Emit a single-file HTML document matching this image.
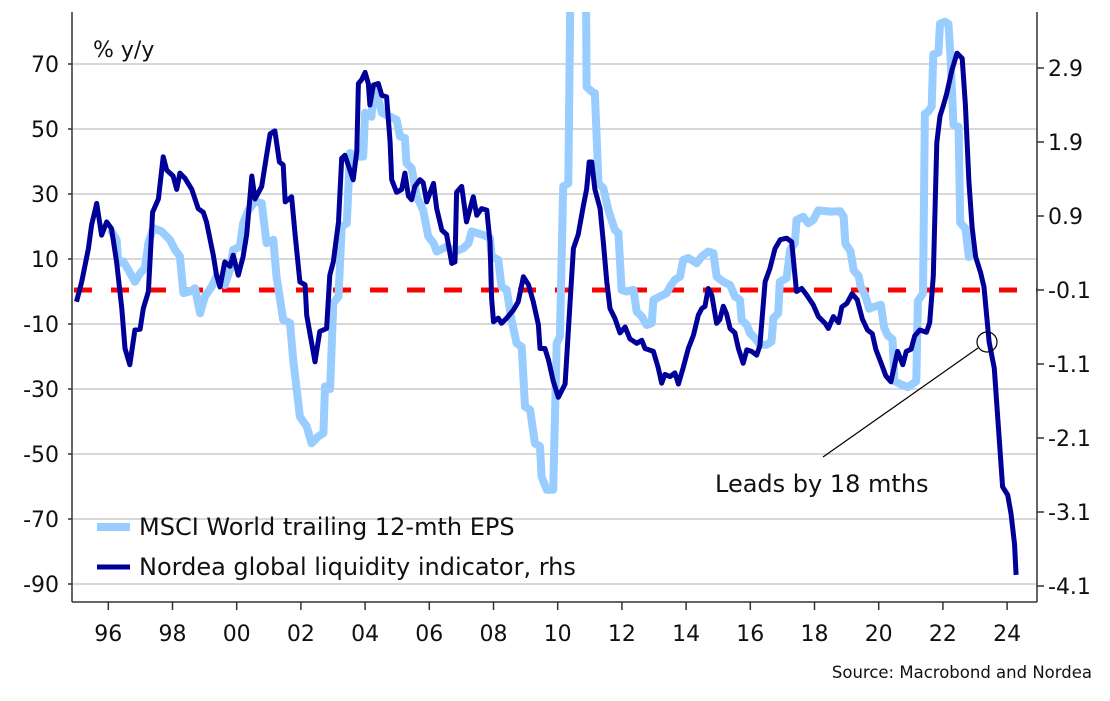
<!DOCTYPE html>
<html><head><meta charset="utf-8">
<style>
html,body{margin:0;padding:0;background:#fff;}
svg{display:block;font-family:"DejaVu Sans","Liberation Sans",sans-serif;}
</style></head>
<body>
<svg id="chart" width="1110" height="701" viewBox="0 0 1110 701" xmlns="http://www.w3.org/2000/svg">
<defs><clipPath id="plotclip"><rect x="72" y="12" width="965" height="590"/></clipPath></defs>
<g id="grid"></g>
<g id="series" clip-path="url(#plotclip)"></g>
<g id="axes"></g>
<text x="93" y="57" font-size="22" fill="#111">% y/y</text>
<g>
  <line x1="97" y1="527" x2="130" y2="527" stroke="#99ccff" stroke-width="8"/>
  <text x="139" y="535" font-size="24" fill="#111">MSCI World trailing 12-mth EPS</text>
  <line x1="97" y1="567" x2="130" y2="567" stroke="#000099" stroke-width="5"/>
  <text x="139" y="575" font-size="24" fill="#111">Nordea global liquidity indicator, rhs</text>
</g>
<g>
  <circle cx="987" cy="342" r="10" fill="none" stroke="#000" stroke-width="1.2"/>
  <line x1="978" y1="348" x2="823" y2="457" stroke="#000" stroke-width="1.2"/>
  <text x="715" y="492" font-size="24" fill="#111">Leads by 18 mths</text>
</g>
<text x="1092" y="678" font-size="16.5" fill="#111" text-anchor="end">Source: Macrobond and Nordea</text>
</svg>
<script>
const leftTicks = [70, 50, 30, 10, -10, -30, -50, -70, -90];
const rightTicks = [2.9, 1.9, 0.9, -0.1, -1.1, -2.1, -3.1, -4.1];
const xTickYears = [1996, 1998, 2000, 2002, 2004, 2006, 2008, 2010, 2012, 2014, 2016, 2018, 2020, 2022, 2024];
const xTickLabels = ["96","98","00","02","04","06","08","10","12","14","16","18","20","22","24"];
const refLevelRhs = -0.1;

const msciYears = [1996.1,1996.26,1996.31,1996.47,1996.62,1996.83,1996.99,1997.14,1997.25,1997.4,1997.66,1997.92,1998.08,1998.23,1998.34,1998.54,1998.7,1998.86,1999.01,1999.22,1999.37,1999.63,1999.79,1999.89,2000.1,2000.2,2000.36,2000.57,2000.78,2000.93,2001.14,2001.24,2001.45,2001.66,2001.76,2001.97,2002.18,2002.33,2002.54,2002.7,2002.75,2002.91,2003.01,2003.17,2003.27,2003.43,2003.53,2003.74,2003.94,2004.0,2004.2,2004.26,2004.36,2004.52,2004.78,2004.98,2005.09,2005.24,2005.29,2005.45,2005.61,2005.81,2005.97,2006.13,2006.23,2006.54,2006.8,2007.06,2007.22,2007.32,2007.68,2007.89,2007.94,2008.15,2008.25,2008.41,2008.56,2008.72,2008.88,2008.98,2009.14,2009.29,2009.45,2009.5,2009.66,2009.86,2009.97,2010.07,2010.17,2010.33,2010.45,2010.85,2010.9,2011.06,2011.16,2011.27,2011.42,2011.58,2011.78,2011.89,2011.99,2012.15,2012.36,2012.46,2012.62,2012.77,2012.93,2012.98,2013.19,2013.4,2013.5,2013.65,2013.81,2013.91,2014.07,2014.33,2014.49,2014.69,2014.85,2014.95,2015.16,2015.37,2015.52,2015.68,2015.73,2015.89,2015.99,2016.15,2016.3,2016.51,2016.66,2016.72,2016.87,2016.92,2017.13,2017.24,2017.39,2017.44,2017.65,2017.81,2017.96,2018.12,2018.48,2018.8,2018.91,2018.96,2019.12,2019.22,2019.38,2019.43,2019.59,2019.7,2019.86,2020.07,2020.17,2020.28,2020.43,2020.49,2020.75,2020.91,2021.17,2021.22,2021.38,2021.44,2021.54,2021.65,2021.7,2021.86,2021.91,2022.07,2022.17,2022.23,2022.33,2022.49,2022.54,2022.7,2022.81];
const msciValues = [18.5,15.9,8.7,9.2,6.7,3,5.6,7.2,14.9,19.5,18.5,15.9,12.8,10.8,-0.5,0,1,-6.7,-1.5,1.5,4.6,2,6.7,12.8,13.8,21,25,27.7,27.2,14.9,15.9,4.6,-8.7,-9.7,-21,-38.5,-41.5,-46.7,-44.6,-43.6,-29.2,-30,-3.6,-1.5,20,21,42.6,41.5,41.5,55,53.8,62.6,61,55,53.8,52.8,47.7,47.2,39.5,38,29.2,25,17,14.9,12.3,13.8,12.3,13.3,14.9,18.5,17.4,16.4,10.8,9.7,1.5,0.5,-8.7,-15.9,-17,-35.4,-36.4,-46.7,-47.7,-57,-61,-61,-15.9,-13.8,32.3,33.3,140,140,63,61.5,61,33.3,31.8,25,19,18,0.5,0,0.5,-6.2,-7.7,-10.3,-9.7,-2.6,-1.5,-0.5,1.5,3.6,4.6,9.7,10.3,8.7,10.8,12.3,11.8,4.6,3,2,-1.5,-2.6,-8.7,-10.3,-12.8,-14.4,-16.4,-16.4,-15.4,-8.2,-6.7,3,4.1,12.8,14.9,22,23,21,22,25,24.6,24.7,23,14.7,12.4,6.5,4.7,1.8,-1.5,-5.3,-4.7,-4.1,-11.2,-13.5,-14.7,-27.6,-28.8,-29.4,-27.6,-2.9,-0.6,54.7,55.3,57,73,73.5,82.4,83,82.4,73.5,51.2,50.6,21.2,19.4,10.6];

const nordeaYears = [1995.01,1995.17,1995.38,1995.48,1995.64,1995.79,1995.95,1996.1,1996.26,1996.42,1996.52,1996.67,1996.83,1996.99,1997.09,1997.25,1997.38,1997.56,1997.71,1997.82,1998.02,1998.13,1998.23,1998.39,1998.6,1998.8,1998.96,1999.06,1999.27,1999.37,1999.48,1999.63,1999.79,1999.89,2000.05,2000.2,2000.31,2000.47,2000.57,2000.78,2000.93,2001.04,2001.19,2001.33,2001.45,2001.51,2001.71,2001.82,2001.97,2002.13,2002.18,2002.44,2002.59,2002.8,2002.9,2003.01,2003.17,2003.27,2003.37,2003.63,2003.74,2003.79,2003.89,2004.0,2004.1,2004.15,2004.26,2004.41,2004.52,2004.67,2004.78,2004.83,2004.98,2005.14,2005.24,2005.35,2005.45,2005.55,2005.71,2005.81,2005.92,2006.13,2006.23,2006.39,2006.54,2006.7,2006.8,2006.85,2007.01,2007.16,2007.37,2007.48,2007.63,2007.79,2007.89,2007.94,2008.0,2008.15,2008.25,2008.41,2008.62,2008.77,2008.93,2009.09,2009.24,2009.4,2009.45,2009.6,2009.71,2009.86,2010.02,2010.23,2010.33,2010.49,2010.64,2010.8,2010.9,2010.98,2011.06,2011.16,2011.32,2011.42,2011.53,2011.63,2011.78,2011.94,2012.1,2012.25,2012.46,2012.62,2012.72,2012.98,2013.13,2013.24,2013.34,2013.5,2013.65,2013.76,2013.91,2014.07,2014.23,2014.38,2014.49,2014.59,2014.69,2014.8,2014.95,2015.05,2015.16,2015.26,2015.37,2015.52,2015.63,2015.78,2015.89,2016.04,2016.2,2016.3,2016.46,2016.61,2016.77,2016.93,2017.13,2017.29,2017.44,2017.6,2017.76,2017.96,2018.12,2018.33,2018.43,2018.59,2018.75,2018.85,2019.01,2019.17,2019.33,2019.49,2019.65,2019.8,2019.91,2020.07,2020.22,2020.38,2020.59,2020.75,2020.86,2021.01,2021.12,2021.28,2021.49,2021.59,2021.7,2021.81,2021.91,2022.02,2022.12,2022.28,2022.44,2022.6,2022.7,2022.81,2022.91,2023.02,2023.17,2023.28,2023.44,2023.6,2023.7,2023.86,2024.02,2024.12,2024.23,2024.28];
const nordeaValues = [-0.26,0.01,0.46,0.78,1.07,0.64,0.82,0.73,0.28,-0.35,-0.89,-1.11,-0.64,-0.63,-0.35,-0.12,0.95,1.13,1.70,1.52,1.44,1.26,1.48,1.41,1.26,1.00,0.95,0.82,0.37,0.10,-0.06,0.28,0.22,0.37,0.10,0.35,0.65,1.44,1.13,1.30,1.72,2.01,2.05,1.63,1.59,1.09,1.16,0.65,0.01,-0.03,-0.44,-1.07,-0.66,-0.62,0.10,0.28,0.82,1.68,1.72,1.39,1.77,2.69,2.74,2.84,2.69,2.40,2.67,2.69,2.53,2.51,1.90,1.39,1.22,1.26,1.48,1.17,1.12,1.30,1.39,1.35,1.09,1.34,1.00,0.71,0.65,0.26,0.28,1.22,1.30,0.82,1.16,0.91,1.00,0.98,0.55,-0.21,-0.53,-0.48,-0.55,-0.48,-0.37,-0.26,0.08,-0.03,-0.26,-0.57,-0.89,-0.89,-1.04,-1.33,-1.55,-1.37,-0.66,0.46,0.65,1.04,1.26,1.63,1.63,1.26,1.00,0.55,0.01,-0.35,-0.48,-0.68,-0.60,-0.76,-0.82,-0.78,-0.89,-0.93,-1.15,-1.36,-1.24,-1.27,-1.22,-1.37,-1.15,-0.89,-0.71,-0.44,-0.35,-0.32,-0.08,-0.17,-0.55,-0.50,-0.32,-0.42,-0.62,-0.68,-0.89,-1.09,-0.91,-0.93,-0.98,-0.85,0.01,0.19,0.46,0.58,0.60,0.55,-0.12,-0.08,-0.17,-0.30,-0.46,-0.55,-0.62,-0.46,-0.54,-0.33,-0.28,-0.15,-0.23,-0.49,-0.64,-0.69,-0.90,-1.08,-1.26,-1.34,-0.93,-1.11,-0.93,-0.90,-0.72,-0.64,-0.67,-0.54,0.09,1.89,2.25,2.40,2.56,2.87,3.10,3.03,2.40,1.37,0.75,0.35,0.14,-0.06,-0.80,-1.16,-1.78,-2.76,-2.87,-3.12,-3.53,-3.95];

const NS = "http://www.w3.org/2000/svg";
const PL = 72, PR = 1037, PT = 12, PB = 602;
function xScale(yr){ return 108.3 + (yr - 1996) * 32.1; }
function yLeft(v){ return 291.5 - v * 3.25; }
function yRight(r){ return 290 - (r + 0.1) * 74; }
function mk(tag, attrs, parent){ const e = document.createElementNS(NS, tag); for (const k in attrs) e.setAttribute(k, attrs[k]); parent.appendChild(e); return e; }

const grid = document.getElementById('grid');
const axes = document.getElementById('axes');
const series = document.getElementById('series');

leftTicks.forEach(v => {
  const y = yLeft(v);
  const g = mk('line', {x1: PL, x2: PR, y1: y, y2: y, stroke: '#cccccc', 'stroke-width': 1.5}, grid);
  
  
  const t = mk('line', {x1: PL - 4, x2: PL, y1: y, y2: y, stroke: '#333', 'stroke-width': 1.5}, axes);
  
  
  const lb = mk('text', {x: 59, y: y + 8, 'font-size': 22, 'text-anchor': 'end', fill: '#111'}, axes);
  lb.textContent = v;
  
  
});
rightTicks.forEach(r => {
  const y = yRight(r);
  const t = mk('line', {x1: PR, x2: PR + 7, y1: y, y2: y, stroke: '#333', 'stroke-width': 1.5}, axes);
  
  
  const lb = mk('text', {x: 1048, y: y + 8, 'font-size': 22, fill: '#111'}, axes);
  lb.textContent = r.toFixed(1);
  
  
});
xTickYears.forEach((yr, i) => {
  const x = xScale(yr);
  const t = mk('line', {x1: x, x2: x, y1: PB, y2: PB + 8, stroke: '#333', 'stroke-width': 1.5}, axes);
  
  
  const lb = mk('text', {x: x, y: 641, 'font-size': 22, 'text-anchor': 'middle', fill: '#111'}, axes);
  lb.textContent = xTickLabels[i];
  
  
});
const la = mk('line', {x1: PL, x2: PL, y1: PT, y2: PB, stroke: '#333', 'stroke-width': 1.5}, axes);


const ra = mk('line', {x1: PR, x2: PR, y1: PT, y2: PB, stroke: '#333', 'stroke-width': 1.5}, axes);


const ba = mk('line', {x1: PL, x2: PR, y1: PB, y2: PB, stroke: '#333', 'stroke-width': 1.5}, axes);



const ref = mk('line', {x1: PL, x2: PR, y1: yRight(refLevelRhs), y2: yRight(refLevelRhs), stroke: '#ff0000', 'stroke-width': 5, 'stroke-dasharray': '18 19', 'stroke-dashoffset': '-2'}, series);



const msciPts = msciYears.map((yr, i) => xScale(yr).toFixed(1) + ',' + yLeft(msciValues[i]).toFixed(1)).join(' ');
const msci = mk('polyline', {points: msciPts, fill: 'none', stroke: '#99ccff', 'stroke-width': 8, 'stroke-linejoin': 'round', 'stroke-linecap': 'round'}, series);



const nordeaPts = nordeaYears.map((yr, i) => xScale(yr).toFixed(1) + ',' + yRight(nordeaValues[i]).toFixed(1)).join(' ');
const nordea = mk('polyline', {points: nordeaPts, fill: 'none', stroke: '#000099', 'stroke-width': 5, 'stroke-linejoin': 'round'}, series);


</script>
</body></html>
